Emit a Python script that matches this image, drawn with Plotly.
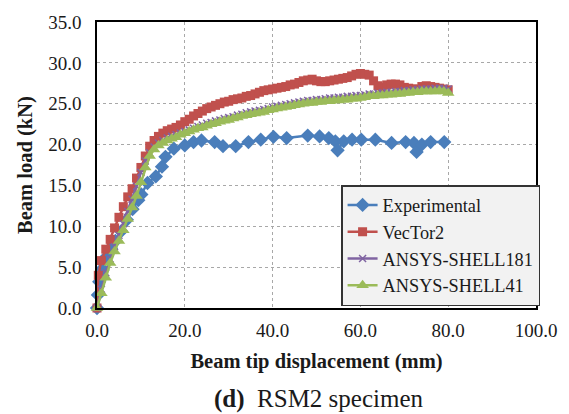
import plotly.graph_objects as go

# ---------------- data ----------------
exp_x = [0, 0.2, 0.5, 1.2, 2.2, 3.2, 4.2, 5.5, 6.8, 8.1, 9.4, 10.1, 11.5, 13.4, 14.8, 15.6,
         17.5, 20.0, 22.0, 23.8, 26.8, 28.7, 31.6, 34.5, 37.3, 40.2, 43.2, 48.0, 50.7, 52.8,
         54.3, 54.8, 56.2, 58.1, 60.2, 63.4, 67.1, 70.3, 72.2, 72.8, 74.0, 76.0, 79.1]
exp_y = [0, 1.6, 3.2, 4.8, 6.3, 7.3, 8.2, 9.4, 10.8, 12.1, 13.2, 13.9, 15.3, 16.1, 17.3, 18.5,
         19.5, 19.9, 20.3, 20.5, 20.3, 19.8, 19.8, 20.3, 20.6, 20.95, 20.8, 21.1, 21.0, 20.8,
         20.4, 19.3, 20.4, 20.6, 20.6, 20.6, 20.2, 20.3, 20.2, 19.1, 20.0, 20.3, 20.3]

vec_x = [0, 0.3, 1, 2, 3, 4, 5, 6, 7, 8, 9, 10, 11, 12, 13, 14, 15, 16, 17, 18, 19, 20,
         21, 22, 23, 24, 25, 26, 27, 28, 29, 30, 31, 32, 33, 34, 35, 36, 37, 38, 39, 40,
         41, 42, 43, 44, 45, 46, 47, 48, 49, 50, 51, 52, 53, 54, 55, 56, 57, 58, 59, 60,
         61, 62, 63, 64, 65, 66, 67, 68, 69, 70, 71, 72, 73, 74, 75, 76, 77, 78, 79, 80]
vec_y = [0.0, 4.0, 5.8, 7.2, 8.4, 9.8, 11.1, 12.4, 13.6, 14.6, 15.9, 17.2, 18.6, 19.8, 20.5,
         21.0, 21.4, 21.7, 21.9, 22.1, 22.4, 22.8, 23.1, 23.5, 23.8, 24.1, 24.4, 24.6, 24.8,
         25.0, 25.2, 25.3, 25.5, 25.6, 25.7, 25.9, 26.0, 26.2, 26.4, 26.6, 26.7, 26.8, 26.9,
         27.0, 27.1, 27.3, 27.4, 27.6, 27.8, 27.9, 28.0, 27.8, 27.7, 27.7, 27.8, 27.9, 28.0,
         28.1, 28.2, 28.4, 28.6, 28.7, 28.6, 28.5, 27.8, 27.2, 27.0, 27.3, 27.4, 27.4, 27.3,
         27.0, 26.9, 26.8, 26.8, 27.1, 27.2, 27.1, 27.0, 26.9, 26.8, 26.7]

ansys_x = [0, 1, 2, 3, 4, 5, 6, 7, 8, 9, 10, 11, 12, 13, 14, 15, 16, 17, 18, 19, 20,
           21, 22, 23, 24, 25, 26, 27, 28, 29, 30, 31, 32, 33, 34, 35, 36, 37, 38, 39, 40,
           41, 42, 43, 44, 45, 46, 47, 48, 49, 50, 51, 52, 53, 54, 55, 56, 57, 58, 59, 60,
           61, 62, 63, 64, 65, 66, 67, 68, 69, 70, 71, 72, 73, 74, 75, 76, 77, 78, 79, 80]
s181_y = [0, 2.3, 4.3, 6.0, 7.5, 8.9, 10.3, 11.8, 13.3, 14.9, 16.6, 18.0, 19.0, 19.7, 20.2,
          20.5, 20.8, 21.0, 21.2, 21.4, 21.6, 21.8, 22.0, 22.2, 22.4, 22.6, 22.7, 22.9, 23.0,
          23.2, 23.3, 23.4, 23.6, 23.7, 23.9, 24.0, 24.1, 24.2, 24.3, 24.4, 24.6, 24.7, 24.8,
          24.9, 25.0, 25.1, 25.2, 25.3, 25.4, 25.4, 25.5, 25.5, 25.6, 25.7, 25.7, 25.8, 25.8,
          25.9, 25.9, 26.0, 26.0, 26.1, 26.2, 26.2, 26.3, 26.3, 26.4, 26.4, 26.5, 26.5, 26.6,
          26.6, 26.7, 26.7, 26.8, 26.8, 26.8, 26.9, 26.9, 26.9, 26.8]
s41_y = [0, 1.8, 3.7, 5.5, 6.9, 8.2, 9.5, 10.9, 12.3, 13.7, 15.4, 17.2, 18.6, 19.4, 19.9,
         20.2, 20.5, 20.7, 20.9, 21.2, 21.4, 21.6, 21.8, 22.0, 22.1, 22.3, 22.5, 22.6, 22.8,
         22.9, 23.0, 23.2, 23.3, 23.5, 23.6, 23.7, 23.8, 23.9, 24.0, 24.2, 24.3, 24.4, 24.5,
         24.6, 24.7, 24.8, 24.9, 25.0, 25.1, 25.1, 25.2, 25.2, 25.3, 25.3, 25.4, 25.4, 25.5,
         25.5, 25.6, 25.6, 25.7, 25.8, 25.9, 25.9, 26.0, 26.0, 26.1, 26.1, 26.2, 26.2, 26.3,
         26.3, 26.4, 26.4, 26.5, 26.5, 26.5, 26.5, 26.6, 26.5, 26.3]

x_ticks = [0, 20, 40, 60, 80, 100]
y_ticks = [0, 5, 10, 15, 20, 25, 30, 35]

# ---------------- figure ----------------
SERIF = "Liberation Serif, Times New Roman, serif"
INK = "#1a1a1a"
BLUE, RED, PURPLE, GREEN = "#4A7EBB", "#C0504D", "#8064A2", "#9BBB59"

fig = go.Figure()
fig.add_trace(go.Scatter(x=exp_x, y=exp_y, name="Experimental", mode="lines+markers",
                         line=dict(color=BLUE, width=2.5),
                         marker=dict(symbol="diamond", size=11, color=BLUE),
                         cliponaxis=False))
fig.add_trace(go.Scatter(x=vec_x, y=vec_y, name="VecTor2", mode="lines+markers",
                         line=dict(color=RED, width=2.5),
                         marker=dict(symbol="square", size=9, color=RED),
                         cliponaxis=False))
fig.add_trace(go.Scatter(x=ansys_x, y=s181_y, name="ANSYS-SHELL181", mode="lines+markers",
                         line=dict(color=PURPLE, width=2.5),
                         marker=dict(symbol="x-thin", size=7, color=PURPLE,
                                     line=dict(color=PURPLE, width=1.5)),
                         cliponaxis=False))
fig.add_trace(go.Scatter(x=ansys_x, y=s41_y, name="ANSYS-SHELL41", mode="lines+markers",
                         line=dict(color=GREEN, width=2.5),
                         marker=dict(symbol="triangle-up", size=11, color=GREEN),
                         cliponaxis=False))

axis_common = dict(showline=True, linecolor="black", linewidth=1.5, mirror=True,
                   showgrid=True, gridcolor="#a8a8a8", griddash="dot", gridwidth=1,
                   zeroline=False, ticks="", tickformat=".1f",
                   tickfont=dict(family=SERIF, size=19, color=INK))

fig.update_xaxes(range=[0, 100], tickvals=x_ticks, ticklabelstandoff=4,
                 title=dict(text="<b>Beam tip displacement (mm)</b>",
                            font=dict(family=SERIF, size=20.5, color=INK), standoff=14),
                 **axis_common)
fig.update_yaxes(range=[0, 35], tickvals=y_ticks, ticklabelstandoff=10,
                 title=dict(text="<b>Beam load (kN)</b>",
                            font=dict(family=SERIF, size=20.5, color=INK), standoff=10),
                 **axis_common)

fig.update_layout(
    width=569, height=414,
    margin=dict(l=97, r=26, t=19, b=106),
    paper_bgcolor="white", plot_bgcolor="white",
    font=dict(family=SERIF, color=INK),
    showlegend=True,
    legend=dict(x=0.556, y=0.43, xanchor="left", yanchor="top",
                bgcolor="#F2F2F2", bordercolor="#333333", borderwidth=1.5,
                font=dict(family=SERIF, size=18.3, color=INK),
                tracegroupgap=0, itemwidth=30),
    annotations=[dict(text="<b>(d)</b>  RSM2 specimen", xref="paper", yref="paper",
                      x=0.505, y=-0.318, xanchor="center", yanchor="middle", showarrow=False,
                      font=dict(family=SERIF, size=25, color=INK))],
)

fig.write_html("out.html")
